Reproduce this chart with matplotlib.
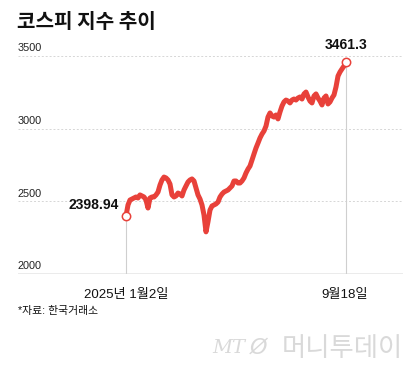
import matplotlib
matplotlib.use('Agg')
import matplotlib.pyplot as plt
import numpy as np

plt.rcParams['font.family'] = ['Liberation Sans', 'Noto Sans CJK KR', 'DejaVu Sans']

# KOSPI close, 2025-01-02 .. 2025-09-18
kospi = [2398.94, 2475, 2509, 2516, 2523, 2530, 2523, 2544, 2537, 2530,
         2509, 2454, 2523, 2530, 2530, 2544, 2564, 2612, 2647, 2667,
         2661, 2647, 2619, 2544, 2530, 2537, 2557, 2550, 2537, 2578,
         2606, 2633, 2647, 2654, 2640, 2592, 2544, 2516, 2475, 2406,
         2290, 2360, 2440, 2468, 2475, 2482, 2495, 2530, 2550, 2564,
         2571, 2578, 2592, 2606, 2640, 2640, 2626, 2626, 2640, 2661,
         2695, 2722, 2743, 2784, 2826, 2867, 2901, 2936, 2963, 2984,
         3018, 3080, 3108, 3087, 3080, 3094, 3067, 3115, 3156, 3184,
         3197, 3190, 3177, 3197, 3204, 3197, 3211, 3218, 3204, 3239,
         3252, 3218, 3190, 3177, 3225, 3239, 3211, 3190, 3163, 3211,
         3225, 3170, 3184, 3211, 3232, 3287, 3362, 3390, 3411, 3431,
         3461.3]
yticks = [2000, 2500, 3000, 3500]
start_label = '2025년 1월2일'
end_label = '9월18일'
title = '코스피 지수 추이'
source = '*자료: 한국거래소'

RED = '#e8413a'
W, H = 420, 371

fig = plt.figure(figsize=(W / 100, H / 100), dpi=100)
ax = fig.add_axes([18 / W, 1 - 274 / H, 385 / W, 218 / H])

n = len(kospi)
xs = np.arange(n)
step = 220 / (n - 1)          # pixels per point
ax.set_xlim(-(126 - 18) / step, (n - 1) + (403 - 346) / step)
ax.set_ylim(2000, 3500)
for s in ax.spines.values():
    s.set_visible(False)
ax.set_xticks([])
ax.set_yticks([])

# grid + baseline
for v in yticks[1:]:
    ax.axhline(v, color='#d6d6d6', lw=0.7, ls=(0, (2, 2)), zorder=1)
ax.axhline(2000, color='#9a9a9a', lw=1.0, zorder=1)
for v in yticks:
    ax.annotate(str(v), xy=(0, v), xycoords=('axes fraction', 'data'),
                xytext=(0, 2), textcoords='offset points',
                ha='left', va='bottom', fontsize=7.8, color='#222222')

# guide lines to the first / last point
ax.vlines([0, n - 1], 2000, [kospi[0], kospi[-1]], color='#cfcfcf', lw=0.8, zorder=1)

ax.plot(xs, kospi, color=RED, lw=3.6, solid_joinstyle='round',
        solid_capstyle='round', zorder=3)
ax.plot([0, n - 1], [kospi[0], kospi[-1]], 'o', ms=6, mfc='white', mec=RED,
        mew=1.1, zorder=4, clip_on=False)

ax.annotate('2398.94', xy=(0, kospi[0]), xytext=(-5, 8), textcoords='offset points',
            ha='right', va='center', fontsize=10, fontweight='bold', color='#111111')
ax.annotate('3461.3', xy=(n - 1, kospi[-1]), xytext=(0, 7), textcoords='offset points',
            ha='center', va='bottom', fontsize=10, fontweight='bold', color='#111111')

ax.annotate(start_label, xy=(0, 0), xycoords=('data', 'axes fraction'),
            xytext=(0, -15), textcoords='offset points', ha='center', va='center',
            fontsize=9.5, color='#111111')
ax.annotate(end_label, xy=(n - 1, 0), xycoords=('data', 'axes fraction'),
            xytext=(-1, -15), textcoords='offset points', ha='center', va='center',
            fontsize=9.5, color='#111111')

fig.text(17 / W, 1 - 22 / H, title, ha='left', va='center', fontsize=14.5,
         fontweight='heavy', family=['Noto Sans CJK KR'], color='#111111')
fig.text(18 / W, 1 - 311 / H, source, ha='left', va='center', fontsize=7.8,
         color='#111111')

# watermark
fig.text(403 / W, 1 - 348 / H, '머니투데이', ha='right', va='center', fontsize=19,
         color='#d9d9d9', family=['Noto Sans CJK KR'])
fig.text(212 / W, 1 - 348 / H, 'MT', ha='left', va='center', fontsize=14,
         color='#d9d9d9', style='italic', family=['DejaVu Serif'])
fig.text(250 / W, 1 - 348 / H, 'Ø', ha='left', va='center', fontsize=16,
         color='#d9d9d9', style='italic', family=['DejaVu Sans'])

fig.savefig('out.png', dpi=100)
